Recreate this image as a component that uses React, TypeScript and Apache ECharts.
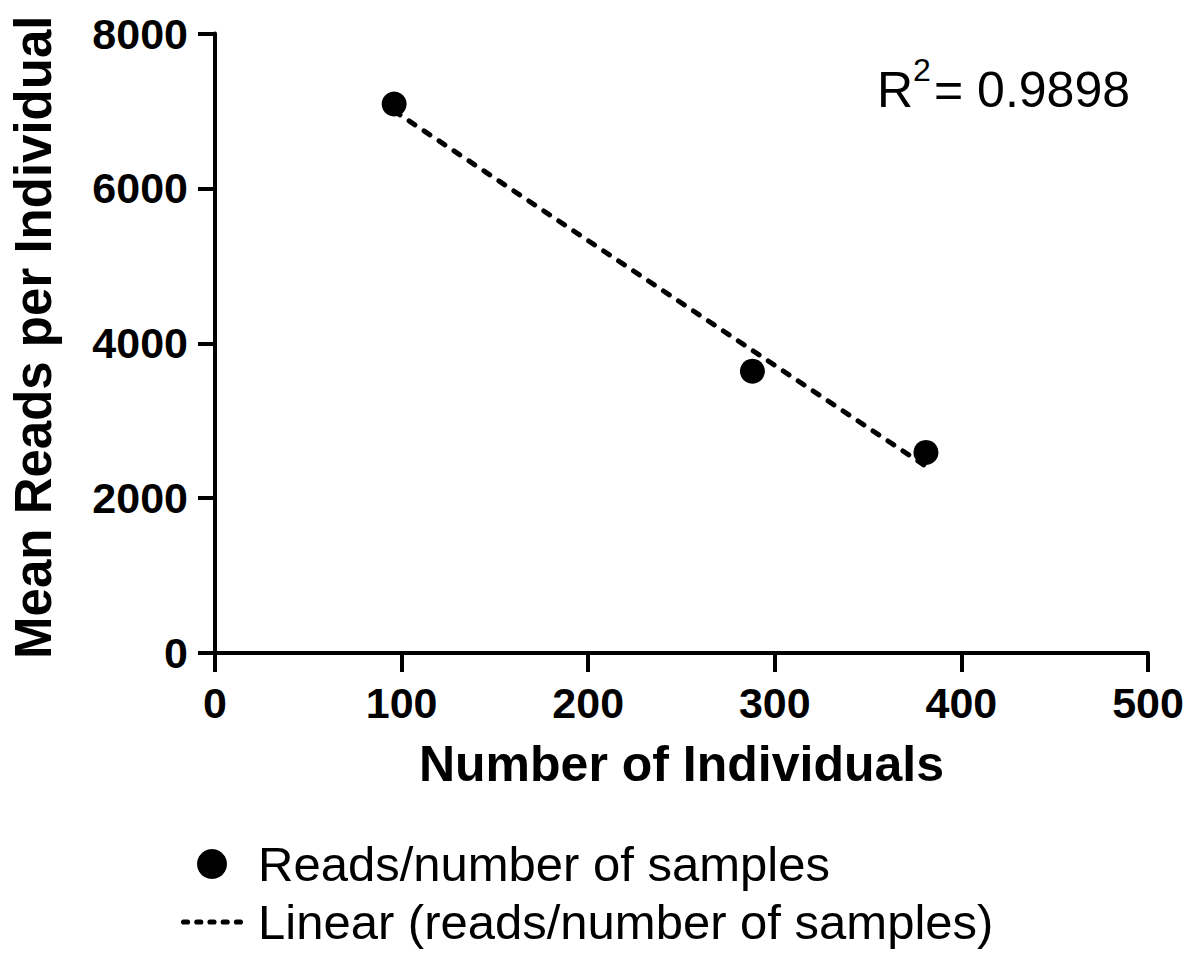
import React, { useEffect, useRef } from "react";
import * as echarts from "echarts";

const individuals = [96, 288, 381];
const meanReads = [7090, 3640, 2590];
const trendX = [96, 381];
const trendY = [7000, 2410];
const xTicks = [0, 100, 200, 300, 400, 500];
const yTicks = [0, 2000, 4000, 6000, 8000];
const pointsName = "Reads/number of samples";
const trendName = "Linear (reads/number of samples)";
const rSquaredLabel = "R";
const rSquaredSup = "2";
const rSquaredValue = "= 0.9898";

const FONT = "'Liberation Sans', Arial, Helvetica, sans-serif";
const DASH_ICON =
  "path://M2.5,0h4a2.5,2.5,0,0,1,0,5h-4a2.5,2.5,0,0,1,0,-5z" +
  "M15.5,0h4a2.5,2.5,0,0,1,0,5h-4a2.5,2.5,0,0,1,0,-5z" +
  "M28.5,0h4a2.5,2.5,0,0,1,0,5h-4a2.5,2.5,0,0,1,0,-5z" +
  "M41.5,0h4a2.5,2.5,0,0,1,0,5h-4a2.5,2.5,0,0,1,0,-5z" +
  "M54.5,0h4a2.5,2.5,0,0,1,0,5h-4a2.5,2.5,0,0,1,0,-5z";

export default function App() {
  const ref = useRef<HTMLDivElement>(null);
  useEffect(() => {
    if (!ref.current) return;
    const chart = echarts.init(ref.current, undefined, { renderer: "svg" });
    const axisLine = { show: true, lineStyle: { color: "#000", width: 4 } };
    chart.setOption({
      animation: false,
      backgroundColor: "#fff",
      grid: { left: 213, right: 52, top: 33.5, bottom: 311, containLabel: false },
      xAxis: {
        type: "value",
        min: xTicks[0],
        max: xTicks[xTicks.length - 1],
        interval: 100,
        name: "Number of Individuals",
        nameLocation: "middle",
        nameGap: 86,
        nameTextStyle: { fontFamily: FONT, fontWeight: "bold", fontSize: 50, color: "#000" },
        axisLine: { ...axisLine, onZero: false },
        axisTick: { show: true, length: 19, lineStyle: { color: "#000", width: 4 } },
        axisLabel: {
          fontFamily: FONT,
          fontWeight: "bold",
          fontSize: 43,
          color: "#000",
          margin: 28,
          formatter: (v: number) => String(v),
        },
        splitLine: { show: false },
      },
      yAxis: {
        type: "value",
        min: yTicks[0],
        max: yTicks[yTicks.length - 1],
        interval: 2000,
        name: "Mean Reads per Individual",
        nameLocation: "middle",
        nameGap: 156,
        nameTextStyle: {
          fontFamily: FONT,
          fontWeight: "bold",
          fontSize: 51,
          color: "#000",
          padding: [0, 0, 0, 12],
        },
        axisLine: { ...axisLine, onZero: false },
        axisTick: { show: true, length: 17, lineStyle: { color: "#000", width: 4 } },
        axisLabel: {
          fontFamily: FONT,
          fontWeight: "bold",
          fontSize: 43,
          color: "#000",
          margin: 27,
          formatter: (v: number) => String(v),
        },
        splitLine: { show: false },
      },
      legend: {
        orient: "vertical",
        left: 176,
        top: 834,
        itemWidth: 62,
        itemHeight: 30,
        itemGap: 8,
        selectedMode: false,
        textStyle: { fontFamily: FONT, fontSize: 49, color: "#000", lineHeight: 50, padding: [0, 0, 0, 10] },
        data: [
          { name: pointsName, icon: "circle", itemStyle: { color: "#000", opacity: 1 } },
          { name: trendName, icon: DASH_ICON, itemStyle: { color: "#000", opacity: 1 } },
        ],
      },
      graphic: [
        {
          type: "text",
          x: 877,
          y: 65,
          style: { text: rSquaredLabel, font: `50px ${FONT}`, fill: "#000", textAlign: "left", textVerticalAlign: "top" },
        },
        {
          type: "text",
          x: 913,
          y: 54,
          style: { text: rSquaredSup, font: `32px ${FONT}`, fill: "#000", textAlign: "left", textVerticalAlign: "top" },
        },
        {
          type: "text",
          x: 934,
          y: 65,
          style: { text: rSquaredValue, font: `50px ${FONT}`, fill: "#000", textAlign: "left", textVerticalAlign: "top" },
        },
      ],
      series: [
        {
          name: trendName,
          type: "line",
          data: trendX.map((x, i) => [x, trendY[i]]),
          symbol: "none",
          z: 2,
          lineStyle: { color: "#000", width: 5, type: [7, 11], cap: "round" },
          itemStyle: { color: "#000" },
        },
        {
          name: pointsName,
          type: "scatter",
          data: individuals.map((x, i) => [x, meanReads[i]]),
          symbol: "circle",
          symbolSize: 25,
          z: 3,
          itemStyle: { color: "#000", opacity: 1 },
        },
      ],
    });
    return () => chart.dispose();
  }, []);
  return (
    <div
      ref={ref}
      style={{ position: "fixed", left: 0, top: 0, width: 1200, height: 964, background: "#fff" }}
    />
  );
}
